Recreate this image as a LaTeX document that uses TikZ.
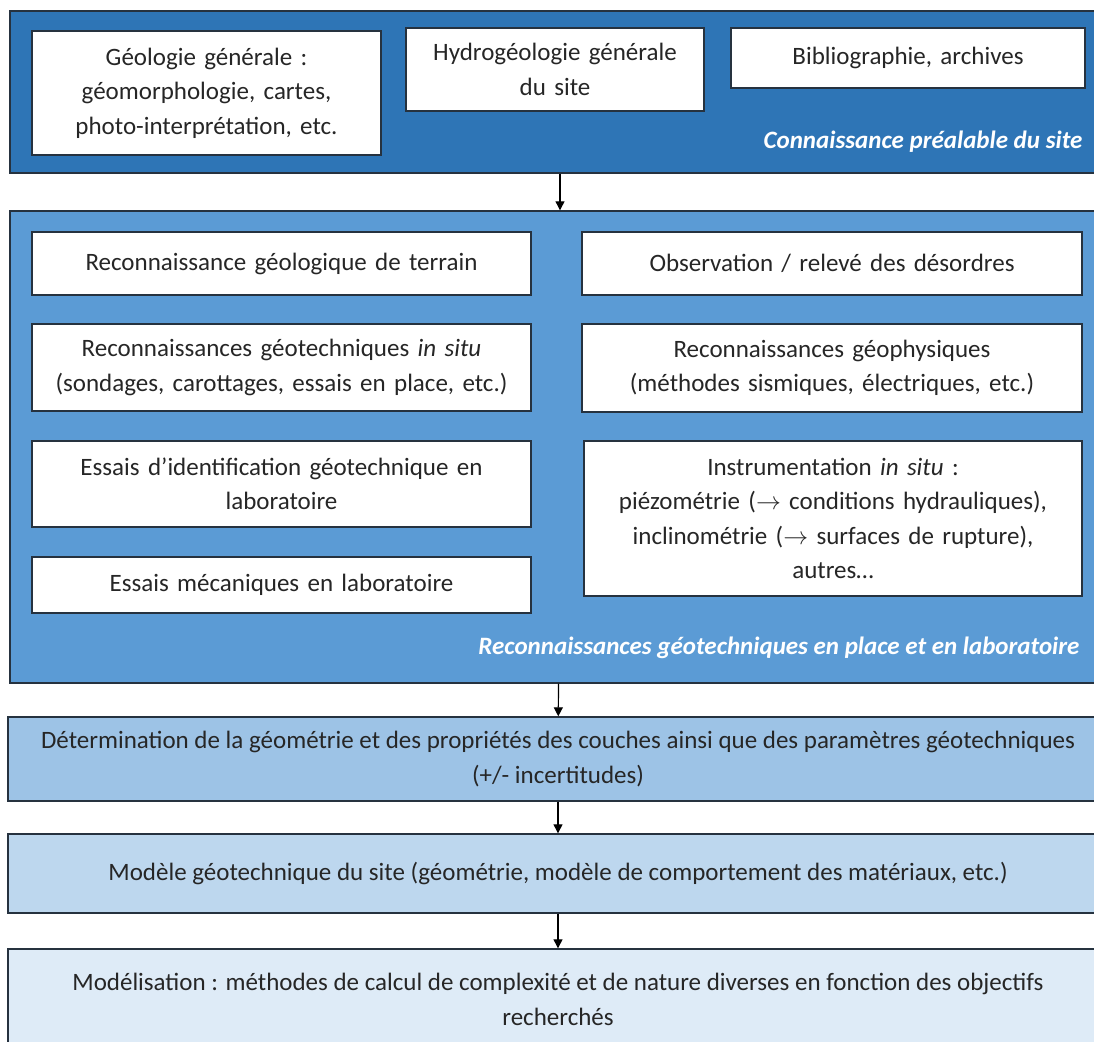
\documentclass[tikz,border=0pt]{standalone}
\usepackage{fontspec}
\setmainfont{Carlito}
\usetikzlibrary{arrows.meta}
\definecolor{bleufonce}{HTML}{2E75B6}
\definecolor{bleumoyen}{HTML}{5B9BD5}
\definecolor{bleuclair}{HTML}{9DC3E6}
\definecolor{bleupale}{HTML}{BDD7EE}
\definecolor{bleutrespale}{HTML}{DEEBF7}
\definecolor{trait}{HTML}{26323F}
\definecolor{texte}{HTML}{262626}
\begin{document}
\begin{tikzpicture}[x=1pt,y=-1pt,
    every node/.style={font=\fontsize{25}{34.5}\selectfont, text=texte},
    cadre/.style={draw=trait, line width=1.4pt, inner sep=0pt, minimum width=1100pt},
    boite/.style={draw=trait, fill=white, line width=1.2pt, inner xsep=6pt, inner ysep=0pt, align=center},
    titre/.style={anchor=east, text=white, font=\fontsize{25}{28}\selectfont\bfseries\itshape},
    fleche/.style={-{Triangle[width=9pt,length=9pt]}, line width=1.2pt}]
  \clip (0,0) rectangle (1094,1041);
  % cadres principaux
  \node[cadre, fill=bleufonce, minimum height=162pt] (prealable) at (560,92) {};
  \node[cadre, fill=bleumoyen, minimum height=472pt] (reco) at (560,447) {};
  \node[cadre, fill=bleuclair, minimum height=84pt, align=center] (determination) at (558,759)
    {Détermination de la géométrie et des propriétés des couches ainsi que des paramètres géotechniques\\(+/- incertitudes)};
  \node[cadre, fill=bleupale, minimum height=79pt] (modele) at (558,873.5)
    {Modèle géotechnique du site (géométrie, modèle de comportement des matériaux, etc.)};
  \node[cadre, fill=bleutrespale, minimum height=101pt, align=center] (modelisation) at (558,999.5)
    {Modélisation : méthodes de calcul de complexité et de nature diverses en fonction des objectifs\\recherchés};
  % connaissance prealable
  \node[boite, text width=337pt, minimum height=124pt] (geologie) at (206.5,93)
    {Géologie générale :\\géomorphologie, cartes,\\photo-interprétation, etc.};
  \node[boite, text width=286pt, minimum height=83pt] (hydro) at (555,69.5)
    {Hydrogéologie générale\\du site};
  \node[boite, text width=342pt, minimum height=60pt] (biblio) at (908,58)
    {Bibliographie, archives};
  \node[titre] (titreprealable) at (1086,142) {Connaissance préalable du site};
  % reconnaissances
  \node[boite, text width=487pt, minimum height=63pt] (terrain) at (281.5,263.5)
    {Reconnaissance géologique de terrain};
  \node[boite, text width=488pt, minimum height=63pt] (desordres) at (832,263.5)
    {Observation / relevé des désordres};
  \node[boite, text width=487pt, minimum height=87pt] (insitu) at (281.5,367.5)
    {Reconnaissances géotechniques \textit{in situ}\\(sondages, carottages, essais en place, etc.)};
  \node[boite, text width=488pt, minimum height=88pt] (geophysique) at (832,368)
    {Reconnaissances géophysiques\\(méthodes sismiques, électriques, etc.)};
  \node[boite, text width=487pt, minimum height=86pt] (identification) at (281.5,484)
    {Essais d’identification géotechnique en\\laboratoire};
  \node[boite, text width=486pt, minimum height=155pt] (instrumentation) at (833,518.5)
    {Instrumentation \textit{in situ} :\\piézométrie ($\rightarrow$ conditions hydrauliques),\\inclinométrie ($\rightarrow$ surfaces de rupture),\\autres…};
  \node[boite, text width=487pt, minimum height=56pt] (mecaniques) at (281.5,585)
    {Essais mécaniques en laboratoire};
  \node[titre] (titrereco) at (1083,648) {Reconnaissances géotechniques en place et en laboratoire};
  % enchainement
  \draw[fleche] (prealable) -- (reco);
  \draw[fleche] (reco) -- (determination);
  \draw[fleche] (determination) -- (modele);
  \draw[fleche] (modele) -- (modelisation);
\end{tikzpicture}
\end{document}
